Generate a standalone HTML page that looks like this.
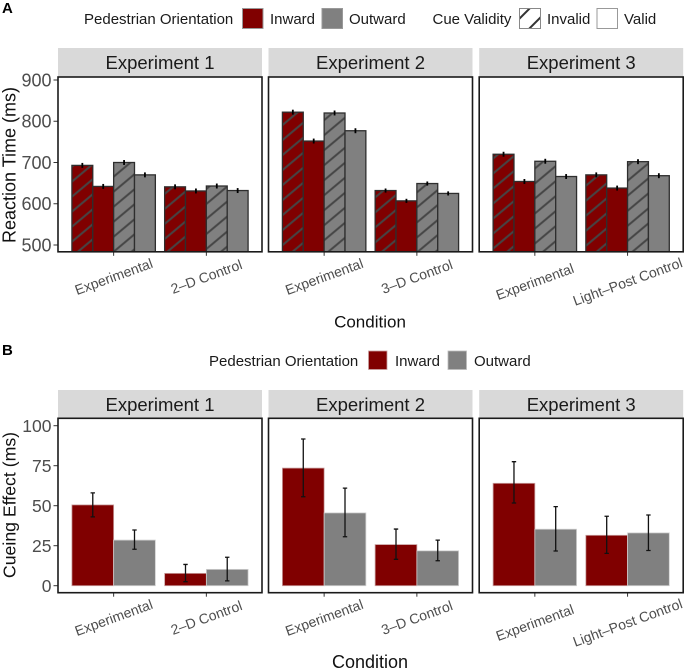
<!DOCTYPE html>
<html lang="en">
<head>
<meta charset="utf-8">
<title>Reaction time and cueing effect by experiment</title>
<style>
html,body{margin:0;padding:0;background:#fff;}
#figure{display:block;width:685px;height:670px;font-family:"Liberation Sans",sans-serif;}
</style>
</head>
<body>
<svg id="figure" xmlns="http://www.w3.org/2000/svg" width="685" height="670" viewBox="0 0 685 670">
<defs>
<pattern id="hatch" patternUnits="userSpaceOnUse" width="11.5" height="11.5" patternTransform="translate(71 250) rotate(-40)">
<rect x="0" y="4.75" width="11.5" height="2" fill="#454545"></rect>
</pattern>
<pattern id="hatch-key" patternUnits="userSpaceOnUse" width="14" height="14" patternTransform="translate(520 28) rotate(-45)">
<rect x="0" y="6" width="14" height="2" fill="#333333"></rect>
</pattern>
</defs>
<rect width="685" height="670" fill="#fff"></rect>

<g id="legend-a" font-size="15" fill="#1a1a1a">
<text x="2" y="13" font-size="15" font-weight="bold" fill="#000">A</text>
<text x="84" y="24">Pedestrian Orientation</text>
<rect x="242.5" y="8.5" width="20.5" height="20" fill="#800000" stroke="#999" stroke-width="1"></rect>
<text x="270" y="24">Inward</text>
<rect x="322" y="8.5" width="20.5" height="20" fill="#808080" stroke="#999" stroke-width="1"></rect>
<text x="349" y="24">Outward</text>
<text x="432.5" y="24">Cue Validity</text>
<rect x="519.5" y="8.5" width="21" height="20" fill="url(#hatch-key)" stroke="#888" stroke-width="1"></rect>
<text x="547" y="24">Invalid</text>
<rect x="597" y="8.5" width="20.5" height="20" fill="#fff" stroke="#999" stroke-width="1"></rect>
<text x="624" y="24">Valid</text>
</g>

<g id="legend-b" font-size="15" fill="#1a1a1a">
<text x="2" y="355" font-size="15" font-weight="bold" fill="#000">B</text>
<text x="209" y="366">Pedestrian Orientation</text>
<rect x="368.5" y="351" width="18.5" height="18.5" fill="#800000" stroke="#c9a0a0" stroke-width="0.8"></rect>
<text x="395" y="366">Inward</text>
<rect x="448" y="351" width="18.5" height="18.5" fill="#808080" stroke="#bbb" stroke-width="0.8"></rect>
<text x="474" y="366">Outward</text>
</g>

<text transform="translate(15.5 165) rotate(-90)" text-anchor="middle" font-size="18" fill="#111">Reaction Time (ms)</text>
<text x="370" y="327.5" text-anchor="middle" font-size="17" fill="#111">Condition</text>
<text transform="translate(15.5 505) rotate(-90)" text-anchor="middle" font-size="17.7" fill="#111">Cueing Effect (ms)</text>
<text x="370" y="668" text-anchor="middle" font-size="18" fill="#111">Condition</text>

<g id="chart-a"></g>
<g id="chart-b"></g>
</svg>

<script>
// ---- shared categories ----
const experiments = ['Experiment 1', 'Experiment 2', 'Experiment 3'];
const conditions = [
  ['Experimental', '2\u2013D Control'],
  ['Experimental', '3\u2013D Control'],
  ['Experimental', 'Light\u2013Post Control']
];

// ---- chart A: reaction time (ms); order: exp1 cond1, exp1 cond2, exp2 cond1, ... ----
const rtInwardInvalid  = [693, 641, 822, 632, 720, 670];
const rtInwardValid    = [642, 631, 752, 607, 654, 638];
const rtOutwardInvalid = [700, 643, 820, 649, 703, 702];
const rtOutwardValid   = [670, 632, 777, 625, 666, 668];
const rtError = [6, 6, 6, 5, 6, 6];
const rtTicks = [500, 600, 700, 800, 900];

// ---- chart B: cueing effect (ms) ----
const cueInward       = [50.5, 7.7, 73.5, 25.7, 64, 31.5];
const cueInwardLow    = [43, 2.5, 55.6, 16.5, 51.7, 20.2];
const cueInwardHigh   = [58, 13.3, 91.7, 35.4, 77.5, 43.4];
const cueOutward      = [28.5, 10.2, 45.5, 21.8, 35.3, 33];
const cueOutwardLow   = [22.8, 3, 30.6, 15.6, 21.7, 22];
const cueOutwardHigh  = [34.8, 17.8, 61, 28.5, 49.4, 44.2];
const cueTicks = [0, 25, 50, 75, 100];

const SVGNS = 'http://www.w3.org/2000/svg';
const panelLeft = [58, 268.5, 479.2];
const panelWidth = 204;
const bandStep = panelWidth / 2.2;
const RED = '#800000', GRAY = '#808080';

function make(parent, tag, attrs, text) {
  const el = document.createElementNS(SVGNS, tag);
  for (const k in attrs) el.setAttribute(k, attrs[k]);
  if (text !== undefined) el.textContent = text;
  parent.appendChild(el);
  return el;
}
function bandCenter(panel, cond) {
  return panelLeft[panel] + bandStep * (0.6 + cond);
}
// dodge: slot index out of n slots across 0.9 of a band
function slotX(panel, cond, slot, n) {
  return bandCenter(panel, cond) - bandStep * 0.45 + slot * (bandStep * 0.9 / n);
}
function yA(v) { return 245 - (v - 500) * 0.4125; }
function yB(v) { return 585.7 - v * 1.6; }

const labelOffsets = [0, 0, 5];

function drawFrame(root, panel, top, bottom, stripTop, yTicks, yFn, labelY, prefix) {
  const left = panelLeft[panel];
  const g = make(root, 'g', {});
  
  

  const strip = make(g, 'rect', { x: left, y: stripTop, width: panelWidth, height: top - stripTop, fill: '#d9d9d9' });
  
  

  const title = make(g, 'text', { x: left + panelWidth / 2, y: stripTop + 21, 'text-anchor': 'middle', 'font-size': 18.5, fill: '#1a1a1a' }, experiments[panel]);
  
  

  conditions[panel].forEach(function (name, c) {
    const cx = bandCenter(panel, c);
    const tick = make(g, 'line', { x1: cx, x2: cx, y1: bottom, y2: bottom + 4, stroke: '#333', 'stroke-width': 1 });
    
    
    const ly = labelY + labelOffsets[panel];
    const label = make(g, 'text', {
      transform: 'translate(' + cx + ' ' + ly + ') rotate(-20)',
      'text-anchor': 'middle', 'dominant-baseline': 'central', 'font-size': 14, fill: '#4d4d4d'
    }, name);
    
    
  });

  if (panel === 0) {
    yTicks.forEach(function (v) {
      const y = yFn(v);
      const t = make(g, 'line', { x1: 53.5, x2: 58, y1: y, y2: y, stroke: '#333', 'stroke-width': 1 });
      
      
      const lab = make(g, 'text', { x: 51.5, y: y + 6.3, 'text-anchor': 'end', 'font-size': prefix === 'a' ? 18 : 17.5, fill: '#4d4d4d' }, String(v));
      
      
    });
  }
}

function drawBorder(root, panel, top, bottom, prefix) {
  const left = panelLeft[panel];
  const border = make(root, 'rect', { x: left, y: top, width: panelWidth, height: bottom - top, fill: 'none', stroke: '#1a1a1a', 'stroke-width': 1.6 });
  
  
}

// ---- draw chart A ----
(function () {
  const root = document.getElementById('chart-a');
  const top = 77, bottom = 251.8;
  const series = [
    { values: rtInwardInvalid, fill: RED, hatch: true },
    { values: rtInwardValid, fill: RED, hatch: false },
    { values: rtOutwardInvalid, fill: GRAY, hatch: true },
    { values: rtOutwardValid, fill: GRAY, hatch: false }
  ];
  experiments.forEach(function (e, p) {
    drawFrame(root, p, top, bottom, 48, rtTicks, yA, 276.5, 'a');
    conditions[p].forEach(function (name, c) {
      const i = p * 2 + c;
      series.forEach(function (s, k) {
        const x = slotX(p, c, k, 4);
        const w = bandStep * 0.9 / 4;
        const y = yA(s.values[i]);
        const bar = make(root, 'rect', { x: x, y: y, width: w, height: bottom - y, fill: s.fill, stroke: 'none' });
        
        
        if (s.hatch) {
          const h = make(root, 'rect', { x: x, y: y, width: w, height: bottom - y, fill: 'url(#hatch)' });
          
          
        }
        const o = make(root, 'rect', { x: x, y: y, width: w, height: bottom - y, fill: 'none', stroke: '#2e2e2e', 'stroke-width': 1.3 });
        
        
      });
      series.forEach(function (s, k) {
        const w = bandStep * 0.9 / 4;
        const cx = slotX(p, c, k, 4) + w / 2;
        const hi = yA(s.values[i] + rtError[i]);
        const lo = yA(s.values[i] - rtError[i]);
        const eb = make(root, 'line', { x1: cx, x2: cx, y1: hi, y2: lo, stroke: '#000', 'stroke-width': 1.8 });
        
        
      });
    });
    drawBorder(root, p, top, bottom, 'a');
  });
})();

// ---- draw chart B ----
(function () {
  const root = document.getElementById('chart-b');
  const top = 418.3, bottom = 592.7;
  const series = [
    { values: cueInward, low: cueInwardLow, high: cueInwardHigh, fill: RED, edge: '#c9a0a0' },
    { values: cueOutward, low: cueOutwardLow, high: cueOutwardHigh, fill: GRAY, edge: '#cfcfcf' }
  ];
  experiments.forEach(function (e, p) {
    drawFrame(root, p, top, bottom, 390, cueTicks, yB, 617.5, 'b');
    conditions[p].forEach(function (name, c) {
      const i = p * 2 + c;
      series.forEach(function (s, k) {
        const x = slotX(p, c, k, 2);
        const w = bandStep * 0.9 / 2;
        const y = yB(s.values[i]);
        const bar = make(root, 'rect', { x: x, y: y, width: w, height: yB(0) - y, fill: s.fill, stroke: s.edge, 'stroke-width': 0.8 });
        
        
      });
      series.forEach(function (s, k) {
        const w = bandStep * 0.9 / 2;
        const cx = slotX(p, c, k, 2) + w / 2;
        const hi = yB(s.high[i]);
        const lo = yB(s.low[i]);
        const eb = make(root, 'path', {
          d: 'M' + (cx - 2.2) + ' ' + hi + 'H' + (cx + 2.2) + 'M' + cx + ' ' + hi + 'V' + lo + 'M' + (cx - 2.2) + ' ' + lo + 'H' + (cx + 2.2),
          fill: 'none', stroke: '#111', 'stroke-width': 1.3
        });
        
        
      });
    });
    drawBorder(root, p, top, bottom, 'b');
  });
})();
</script>
</body>
</html>
